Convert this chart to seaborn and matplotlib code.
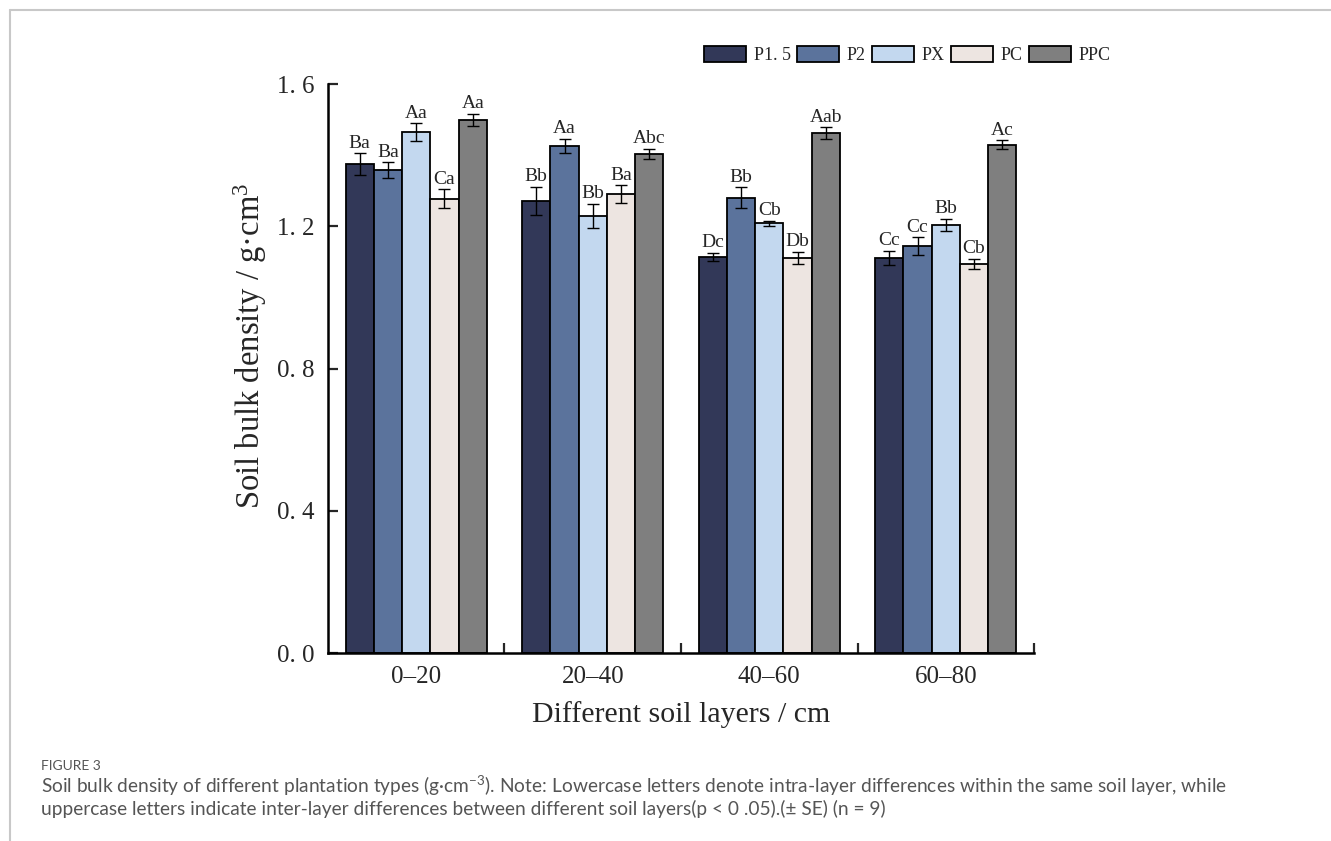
import numpy as np
import pandas as pd
import seaborn as sns
import matplotlib.pyplot as plt
from matplotlib.lines import Line2D
from matplotlib.ticker import FixedLocator

sns.set_theme(style="ticks")
plt.rcParams['font.family'] = ['Liberation Serif', 'DejaVu Serif']
plt.rcParams['mathtext.default'] = 'regular'

# data
layers = ["0–20", "20–40", "40–60", "60–80"]
types = ["P1.5", "P2", "PX", "PC", "PPC"]
type_labels = ["P1. 5", "P2", "PX", "PC", "PPC"]
colors = ["#323858", "#5B739C", "#C3D8EF", "#EDE5E1", "#7F7F7F"]

p15 = [1.375, 1.271, 1.114, 1.111]
p2 = [1.358, 1.426, 1.280, 1.145]
px = [1.465, 1.229, 1.209, 1.204]
pc = [1.277, 1.291, 1.111, 1.094]
ppc = [1.499, 1.403, 1.462, 1.429]

p15_se = [0.030, 0.040, 0.012, 0.020]
p2_se = [0.022, 0.020, 0.030, 0.025]
px_se = [0.025, 0.034, 0.007, 0.017]
pc_se = [0.027, 0.025, 0.018, 0.015]
ppc_se = [0.018, 0.015, 0.017, 0.013]

p15_sig = ["Ba", "Bb", "Dc", "Cc"]
p2_sig = ["Ba", "Aa", "Bb", "Cc"]
px_sig = ["Aa", "Bb", "Cb", "Bb"]
pc_sig = ["Ca", "Ba", "Db", "Cb"]
ppc_sig = ["Aa", "Abc", "Aab", "Ac"]

yticks = [0.0, 0.4, 0.8, 1.2, 1.6]

means = [p15, p2, px, pc, ppc]
ses = [p15_se, p2_se, px_se, pc_se, ppc_se]
sigs = [p15_sig, p2_sig, px_sig, pc_sig, ppc_sig]

df = pd.DataFrame({
    "layer": np.repeat(layers, len(types)),
    "type": types * len(layers),
    "value": np.array(means).T.ravel(),
})

fig = plt.figure(figsize=(13.31, 8.41), dpi=100)
ax = fig.add_axes([0.2464, 0.2235, 0.5305, 0.6766])

sns.barplot(data=df, x="layer", y="value", hue="type", order=layers,
            hue_order=types, palette=colors, saturation=1, errorbar=None,
            edgecolor="black", linewidth=1.3, width=0.8, ax=ax, legend=False)

# error bars and letters on each bar
for cont, se, sig in zip(ax.containers, ses, sigs):
    for bar, e, s in zip(cont, se, sig):
        xc = bar.get_x() + bar.get_width() / 2
        h = bar.get_height()
        ax.errorbar(xc, h, yerr=e, fmt="none", ecolor="black",
                    elinewidth=1.0, capsize=4.5, capthick=1.0)
        ax.annotate(s, (xc, h + e), xytext=(0, 1), textcoords="offset points",
                    ha="center", va="bottom", fontsize=14)

ax.set_xlim(-0.5, 3.5)
ax.set_ylim(0, 1.6)
ax.set_yticks(yticks, labels=[f"{t:.1f}".replace(".", ". ") for t in yticks])
ax.xaxis.set_minor_locator(FixedLocator([0.5, 1.5, 2.5, 3.5]))
ax.tick_params(axis="x", which="major", length=0, pad=9, labelsize=18)
ax.tick_params(axis="x", which="minor", direction="in", length=7, width=1.6)
ax.tick_params(axis="y", direction="in", length=7, width=1.6, pad=10, labelsize=18)

ax.set_xlabel("Different soil layers / cm", fontsize=21.5, labelpad=10)
ax.set_ylabel("Soil bulk density / g·cm$^{3}$", fontsize=23.5)
ax.yaxis.set_label_coords(-0.083, 0.54)

for side in ["top", "right"]:
    ax.spines[side].set_visible(False)
for side in ["left", "bottom"]:
    ax.spines[side].set_linewidth(1.8)
    ax.spines[side].set_color("black")

handles = [plt.Rectangle((0, 0), 1, 1, facecolor=c, edgecolor="black", linewidth=1.3)
           for c in colors]
fig.legend(handles, type_labels, loc="center left", bbox_to_anchor=(0.529, 0.935),
           ncol=5, frameon=False, fontsize=13, handlelength=2.3, handleheight=1.0,
           handletextpad=0.45, columnspacing=0.35, borderpad=0, borderaxespad=0)

# caption and page frame
fig.add_artist(Line2D([10 / 1331, 1], [1 - 10 / 841] * 2, transform=fig.transFigure,
                      color="#c8c8c8", linewidth=1.5))
fig.add_artist(Line2D([10 / 1331] * 2, [0, 1 - 10 / 841], transform=fig.transFigure,
                      color="#c8c8c8", linewidth=1.5))
cap_font = ["Lato", "DejaVu Sans"]
fig.text(41 / 1331, 1 - 766 / 841, "FIGURE 3", fontsize=10, color="#555555",
         family=cap_font, va="center")
fig.text(41 / 1331, 1 - 786 / 841,
         "Soil bulk density of different plantation types (g·cm$^{-3}$). Note: Lowercase letters "
         "denote intra-layer differences within the same soil layer, while",
         fontsize=13.8, color="#555555", family=cap_font, va="center")
fig.text(41 / 1331, 1 - 809 / 841,
         "uppercase letters indicate inter-layer differences between different soil "
         "layers(p < 0 .05).(± SE) (n = 9)",
         fontsize=13.8, color="#555555", family=cap_font, va="center")

fig.savefig("out.png", dpi=100)
